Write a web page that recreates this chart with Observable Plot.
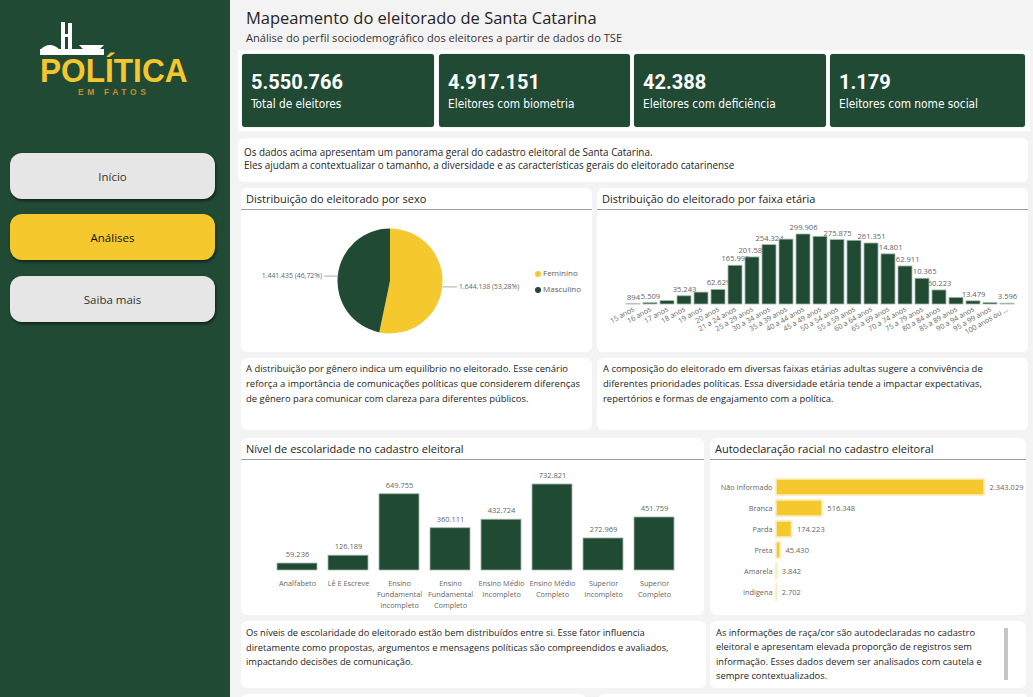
<!DOCTYPE html>
<html><head><meta charset="utf-8">
<script src="https://cdn.jsdelivr.net/npm/d3@7"></script>
<script src="https://cdn.jsdelivr.net/npm/@observablehq/plot@0.6"></script>
<style>
html,body{margin:0;padding:0;width:1033px;height:697px;overflow:hidden;background:#f3f3f3;font-family:"Open Sans","Noto Sans",sans-serif;color:#252423;}
#sidebar{position:absolute;left:0;top:0;width:230px;height:697px;background:#214a35;}
.btn{position:absolute;left:10px;width:205px;height:46px;border-radius:12px;background:#e6e6e6;box-shadow:1px 2px 3px rgba(0,0,0,0.5);display:flex;align-items:center;justify-content:center;font-size:11.5px;color:#333;}
.panel{position:absolute;background:#fff;border-radius:6px;}
.ptitle{position:absolute;left:5px;top:3px;font-size:11px;color:#252423;white-space:nowrap;}
.pline{position:absolute;left:0;right:0;top:21px;height:1px;background:#9c9c9c;}
.txt{position:absolute;background:#fff;border-radius:6px;font-size:9.45px;line-height:15px;white-space:nowrap;color:#252423;box-sizing:border-box;}
.kpi{position:absolute;top:54px;height:73px;background:#214a35;border-radius:3px;box-shadow:0 0 1px rgba(0,0,0,0.5);color:#fff;}
.kpi .num{position:absolute;left:9px;font-family:Roboto,sans-serif;font-weight:bold;font-size:20px;line-height:24px;}
.kpi .lab{position:absolute;left:9px;font-family:"Liberation Sans Narrow","DejaVu Sans Condensed",Roboto,sans-serif;font-size:11.8px;line-height:14px;}
.plot{position:absolute;left:0;}
.leg{position:absolute;font-size:8px;color:#605e5c;white-space:nowrap;}
.leg span{display:inline-block;width:6px;height:6px;border-radius:50%;margin-right:2px;vertical-align:-0.5px;}
.logo1{position:absolute;left:40px;top:57px;font-family:"Liberation Sans",Arial,sans-serif;font-weight:bold;font-size:34px;line-height:27px;height:27px;color:#f5c62d;transform-origin:0 0;transform:scaleX(0.93);white-space:nowrap;}
.logo2{position:absolute;left:78px;top:88px;font-family:"Liberation Sans",Arial,sans-serif;font-weight:bold;font-size:8.5px;line-height:8px;height:8px;color:#c98d2b;letter-spacing:3.6px;white-space:nowrap;}
</style></head>
<body>
<div id="sidebar">
  <svg width="230" height="56" style="position:absolute;left:0;top:0">
    <rect x="40" y="49" width="64" height="6" fill="#fff"/>
    <path d="M40 50 Q50 40 60 50 Z" fill="#fff"/>
    <path d="M79 45 L104 45 L99 50 L84 50 Z" fill="#fff"/>
    <rect x="61" y="22" width="4" height="28" fill="#fff"/>
    <rect x="68" y="23" width="4" height="27" fill="#fff"/>
    <rect x="61" y="34" width="11" height="3" fill="#fff"/>
  </svg>
  <div class="logo1">POLÍTICA</div>
  <div class="logo2">EM FATOS</div>
  <div class="btn" style="top:153px">Início</div>
  <div class="btn" style="top:214px;background:#f5c92e;color:#111">Análises</div>
  <div class="btn" style="top:276px">Saiba mais</div>
</div>

<div style="position:absolute;left:246px;top:6px;font-size:16.5px;white-space:nowrap">Mapeamento do eleitorado de Santa Catarina</div>
<div style="position:absolute;left:246px;top:30px;font-size:11.1px;white-space:nowrap;color:#333">Análise do perfil sociodemográfico dos eleitores a partir de dados do TSE</div>

<div style="position:absolute;left:238px;top:50px;width:792px;height:81px;background:#fff"></div>
<div id="kpis"></div>

<div class="txt" style="left:238px;top:138px;width:790px;height:44px;padding:8px 0 0 6px;line-height:12.5px;font-size:9.9px">Os dados acima apresentam um panorama geral do cadastro eleitoral de Santa Catarina.<br>Eles ajudam a contextualizar o tamanho, a diversidade e as características gerais do eleitorado catarinense</div>

<div class="panel" style="left:241px;top:188px;width:351px;height:164px">
  <div class="ptitle">Distribuição do eleitorado por sexo</div><div class="pline"></div>
  <div class="plot" id="pie" style="top:23px"></div>
  <div class="leg" style="left:294px;top:79px"><span style="background:#f5c92e"></span>Feminino</div>
  <div class="leg" style="left:294px;top:95px"><span style="background:#214a35"></span>Masculino</div>
</div>
<div class="panel" style="left:597px;top:188px;width:431px;height:164px">
  <div class="ptitle">Distribuição do eleitorado por faixa etária</div><div class="pline"></div>
  <div class="plot" id="age" style="top:23px"></div>
</div>

<div class="txt" style="left:241px;top:358px;width:351px;height:72px;padding:3px 0 0 5px">A distribuição por gênero indica um equilíbrio no eleitorado. Esse cenário<br>reforça a importância de comunicações políticas que considerem diferenças<br>de gênero para comunicar com clareza para diferentes públicos.</div>
<div class="txt" style="left:597px;top:358px;width:431px;height:72px;padding:3px 0 0 6px">A composição do eleitorado em diversas faixas etárias adultas sugere a convivência de<br>diferentes prioridades políticas. Essa diversidade etária tende a impactar expectativas,<br>repertórios e formas de engajamento com a política.</div>

<div class="panel" style="left:241px;top:438px;width:463px;height:177px">
  <div class="ptitle">Nível de escolaridade no cadastro eleitoral</div><div class="pline"></div>
  <div class="plot" id="edu" style="top:22px"></div>
</div>
<div class="panel" style="left:710px;top:438px;width:316px;height:177px">
  <div class="ptitle">Autodeclaração racial no cadastro eleitoral</div><div class="pline"></div>
  <div class="plot" id="race" style="top:22px"></div>
</div>

<div class="txt" style="left:241px;top:621px;width:465px;height:67px;padding:5px 0 0 5px;line-height:14.5px;font-size:9.3px">Os níveis de escolaridade do eleitorado estão bem distribuídos entre si. Esse fator influencia<br>diretamente como propostas, argumentos e mensagens políticas são compreendidos e avaliados,<br>impactando decisões de comunicação.</div>
<div class="txt" style="left:710px;top:621px;width:316px;height:67px;padding:5px 0 0 6px;line-height:14.3px;font-size:9.3px">As informações de raça/cor são autodeclaradas no cadastro<br>eleitoral e apresentam elevada proporção de registros sem<br>informação. Esses dados devem ser analisados com cautela e<br>sempre contextualizados.
  <div style="position:absolute;left:294px;top:7px;width:4px;height:52px;background:#c6c6c6"></div></div>

<div class="txt" style="left:241px;top:694px;width:345px;height:20px"></div>
<div class="txt" style="left:598px;top:694px;width:430px;height:20px"></div>

<script>
// ---------- DATA ----------
const kpiValues = [5550766, 4917151, 42388, 1179];
const kpiLabels = ["Total de eleitores", "Eleitores com biometria", "Eleitores com deficiência", "Eleitores com nome social"];

const sexos = ["Feminino", "Masculino"];
const sexoValues = [1644138, 1441435];

const ageGroups = ["15 anos","16 anos","17 anos","18 anos","19 anos","20 anos","21 a 24 anos","25 a 29 anos","30 a 34 anos","35 a 39 anos","40 a 44 anos","45 a 49 anos","50 a 54 anos","55 a 59 anos","60 a 64 anos","65 a 69 anos","70 a 74 anos","75 a 79 anos","80 a 84 anos","85 a 89 anos","90 a 94 anos","95 a 99 anos","100 anos ou mais"];
const ageValues = [894, 5509, 14500, 35243, 51000, 62629, 165995, 201588, 254324, 278000, 299906, 290000, 275875, 273000, 261351, 214801, 162911, 110365, 60223, 28500, 13479, 5800, 3596];
const ageLabelShown = [true, true, false, true, false, true, true, true, true, false, true, false, true, false, true, true, true, true, true, false, true, false, true];

const eduLevels = ["Analfabeto", "Lê E Escreve", "Ensino Fundamental Incompleto", "Ensino Fundamental Completo", "Ensino Médio Incompleto", "Ensino Médio Completo", "Superior Incompleto", "Superior Completo"];
const eduTickLabels = ["Analfabeto", "Lê E Escreve", "Ensino\nFundamental\nIncompleto", "Ensino\nFundamental\nCompleto", "Ensino Médio\nIncompleto", "Ensino Médio\nCompleto", "Superior\nIncompleto", "Superior\nCompleto"];
const eduValues = [59236, 126189, 649755, 360111, 432724, 732821, 272969, 451759];

const racas = ["Não Informado", "Branca", "Parda", "Preta", "Amarela", "Indigena"];
const racaValues = [2343029, 516348, 174223, 45430, 3842, 2702];

// ---------- HELPERS ----------
const GREEN = "#214a35", YELLOW = "#f5c92e", LABEL = "#666";
const locale = d3.formatLocale({decimal: ",", thousands: ".", grouping: [3], currency: ["R$", ""]});
const fmt = locale.format(",d");
const pct = locale.format(".2%");
const baseStyle = {fontFamily: "'Open Sans','Noto Sans',sans-serif", fontSize: "7.5px", background: "transparent", color: LABEL, overflow: "visible"};

// KPIs
const kpiLeft = [242, 439, 634, 830], kpiW = [192, 191, 192, 195];
const kpiBox = document.getElementById("kpis");
kpiValues.forEach((v, i) => {
  const d = document.createElement("div");
  d.className = "kpi";
  d.style.left = kpiLeft[i] + "px"; d.style.width = kpiW[i] + "px";
  d.innerHTML = `<div class="num" style="top:16px">${fmt(v)}</div><div class="lab" style="top:43px">${kpiLabels[i]}</div>`;
  kpiBox.appendChild(d);
});

// ---------- PIE ----------
const sexoData = sexos.map((s, i) => ({sexo: s, valor: sexoValues[i]}));
const total = d3.sum(sexoValues);
const arcs = d3.pie().sort(null).value(d => d.valor)(sexoData);
const pieLabels = arcs.map(a => {
  const m = (a.startAngle + a.endAngle) / 2;
  const s = Math.sin(m) >= 0 ? 1 : -1;
  return {x1: Math.sin(m), y1: Math.cos(m), x2: Math.sin(m) + s * 0.27, y2: Math.cos(m), xt: Math.sin(m) + s * 0.31,
    text: `${fmt(a.data.valor)} (${pct(a.data.valor / total)})`, side: s};
});
const pie = Plot.plot({
  width: 351, height: 141, marginLeft: 96.5, marginRight: 149.5, marginTop: 17.5, marginBottom: 18.5,
  x: {domain: [-1, 1], axis: null}, y: {domain: [-1, 1], axis: null},
  color: {domain: sexos, range: [YELLOW, GREEN]},
  style: baseStyle,
  marks: [
    Plot.dot(sexoData, {x: 0, y: 0, fill: "sexo", render: (index, scales, values) => {
      const cx = scales.x(0), cy = scales.y(0), r = scales.x(1) - scales.x(0);
      const pa = d3.pie().sort(null).value(i => sexoData[i].valor)(index);
      const g = d3.create("svg:g").attr("transform", `translate(${cx},${cy})`);
      g.selectAll("path").data(pa).join("path")
        .attr("d", d3.arc().innerRadius(0).outerRadius(r))
        .attr("fill", d => values.fill[d.data]);
      return g.node();
    }}),
    Plot.link(pieLabels, {x1: "x1", y1: "y1", x2: "x2", y2: "y2", stroke: "#aaa", strokeWidth: 1}),
    Plot.text(pieLabels.filter(d => d.side > 0), {x: "xt", y: "y2", text: "text", textAnchor: "start", fill: LABEL, fontSize: 6.9}),
    Plot.text(pieLabels.filter(d => d.side < 0), {x: "xt", y: "y2", text: "text", textAnchor: "end", fill: LABEL, fontSize: 6.9})
  ]
});
document.getElementById("pie").appendChild(pie);

// ---------- AGE ----------
const ageData = ageGroups.map((g, i) => ({faixa: g, valor: ageValues[i], shown: ageLabelShown[i]}));
const age = Plot.plot({
  width: 431, height: 141, marginLeft: 24, marginRight: 9, marginTop: 23, marginBottom: 48,
  x: {domain: ageGroups, padding: 0.18},
  y: {domain: [0, d3.max(ageValues)], axis: null},
  style: baseStyle,
  marks: [
    Plot.text(ageData.filter(d => d.shown), {x: "faixa", y: "valor", text: d => fmt(d.valor), dy: -7, fill: LABEL, fontSize: 7.6}),
    Plot.barY(ageData, {x: "faixa", y: "valor", fill: GREEN, stroke: "#a3b8aa", strokeWidth: 0.8}),
    Plot.axisX({tickRotate: -30, tickSize: 0, tickPadding: 4, fontSize: 7.2, fill: LABEL, label: null,
      tickFormat: d => d.length > 14 ? d.slice(0, 11) + " ..." : d})
  ]
});
document.getElementById("age").appendChild(age);

// ---------- EDUCATION ----------
const eduData = eduLevels.map((e, i) => ({nivel: e, valor: eduValues[i]}));
const edu = Plot.plot({
  width: 463, height: 155, marginLeft: 22, marginRight: 15, marginTop: 24, marginBottom: 45,
  x: {domain: eduLevels, padding: 0.21},
  y: {domain: [0, d3.max(eduValues)], axis: null},
  style: baseStyle,
  marks: [
    Plot.barY(eduData, {x: "nivel", y: "valor", fill: GREEN, stroke: "#a3b8aa", strokeWidth: 0.8}),
    Plot.text(eduData, {x: "nivel", y: "valor", text: d => fmt(d.valor), dy: -9, fill: LABEL, fontSize: 7.5}),
    Plot.axisX({tickSize: 0, tickPadding: 8, fontSize: 7.3, fill: LABEL, label: null, lineHeight: 1.5,
      tickFormat: d => eduTickLabels[eduLevels.indexOf(d)]})
  ]
});
document.getElementById("edu").appendChild(edu);

// ---------- RACE ----------
const raceData = racas.map((r, i) => ({raca: r, valor: racaValues[i]}));
const race = Plot.plot({
  width: 316, height: 155, marginLeft: 66, marginRight: 42, marginTop: 12.6, marginBottom: 8,
  y: {domain: racas, padding: 0.25},
  x: {domain: [0, d3.max(racaValues)], axis: null},
  style: baseStyle,
  marks: [
    Plot.barX(raceData, {y: "raca", x: "valor", fill: YELLOW, stroke: "#fcecb4", strokeWidth: 1.6}),
    Plot.text(raceData, {y: "raca", x: "valor", text: d => fmt(d.valor), dx: 5, textAnchor: "start", fill: LABEL, fontSize: 7.5}),
    Plot.axisY({tickSize: 0, tickPadding: 4, fontSize: 7.3, fill: LABEL, label: null})
  ]
});
document.getElementById("race").appendChild(race);
</script>
</body></html>
